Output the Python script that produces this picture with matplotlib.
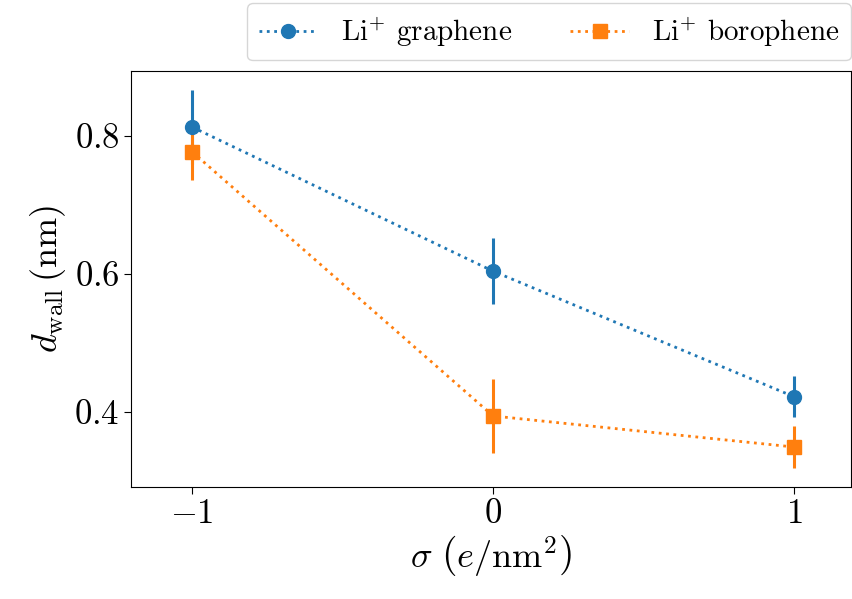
import matplotlib
matplotlib.use("Agg")
import matplotlib.pyplot as plt
from matplotlib.lines import Line2D

plt.rcParams['font.family'] = 'serif'
plt.rcParams['font.serif'] = ['cmr10', 'DejaVu Serif']
plt.rcParams['mathtext.fontset'] = 'cm'
plt.rcParams['axes.formatter.use_mathtext'] = True
plt.rcParams['axes.unicode_minus'] = True

sigma = [-1, 0, 1]
graphene = [0.813, 0.604, 0.422]
graphene_err = [0.054, 0.048, 0.030]
borophene = [0.777, 0.394, 0.349]
borophene_err = [0.041, 0.054, 0.030]
labels = [r'Li$^{+}$ graphene', r'Li$^{+}$ borophene']
colors = ['#1f77b4', '#ff7f0e']

fig = plt.figure(figsize=(8.52, 5.99), dpi=100)
ax = fig.add_axes([0.154, 0.187, 0.845, 0.694])

ax.errorbar(sigma, graphene, yerr=graphene_err, fmt='o', ls=':', color=colors[0],
            markersize=10, elinewidth=2.2, lw=2)
ax.errorbar(sigma, borophene, yerr=borophene_err, fmt='s', ls=':', color=colors[1],
            markersize=10, elinewidth=2.2, lw=2)

ax.set_xlim(-1.203, 1.19)
ax.set_ylim(0.291, 0.894)
ax.set_xticks([-1, 0, 1])
ax.set_yticks([0.4, 0.6, 0.8])
ax.tick_params(labelsize=25, length=5)
ax.set_xlabel(r'$\sigma\ \left(e/\mathrm{nm}^2\right)$', fontsize=26, labelpad=2)
ax.set_ylabel(r'$d_\mathrm{wall}\,(\mathrm{nm})$', fontsize=26)

handles = [Line2D([], [], ls=':', lw=2, marker='o', markersize=10, color=colors[0]),
           Line2D([], [], ls=':', lw=2, marker='s', markersize=10, color=colors[1])]
ax.legend(handles, labels, loc='lower right', bbox_to_anchor=(1.0, 1.026), ncol=2,
          fontsize=21, borderaxespad=0)

fig.savefig('out.png', dpi=100)
